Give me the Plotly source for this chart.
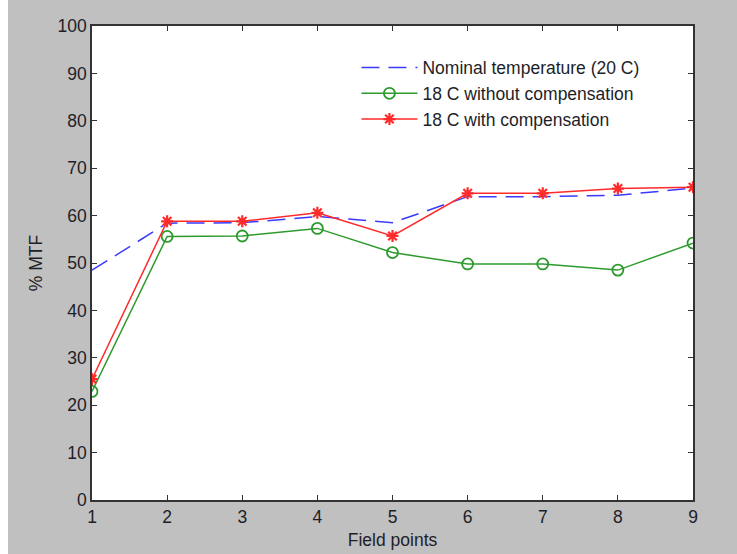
import plotly.graph_objects as go

field_points = [1, 2, 3, 4, 5, 6, 7, 8, 9]
nominal_20c = [48.5, 58.4, 58.5, 59.8, 58.5, 64.0, 64.0, 64.3, 65.8]
c18_without = [22.9, 55.6, 55.7, 57.3, 52.2, 49.8, 49.8, 48.5, 54.2]
c18_with = [25.5, 58.8, 58.8, 60.6, 55.7, 64.7, 64.7, 65.7, 66.0]
y_ticks = [0, 10, 20, 30, 40, 50, 60, 70, 80, 90, 100]

FONT = "Liberation Sans, Arial, sans-serif"
TXT = "#1e1e28"
GRAY = "#c0c0c0"
FS = 17.5

fig = go.Figure()
fig.add_trace(go.Scatter(
    x=field_points, y=nominal_20c, mode="lines", name="Nominal temperature (20 C)",
    line=dict(color="#3a3aff", width=1.5, dash="18px,9px")))
fig.add_trace(go.Scatter(
    x=field_points, y=c18_without, mode="lines+markers", name="18 C without compensation",
    line=dict(color="#2e9a2e", width=1.5),
    marker=dict(symbol="circle-open", size=11, color="#2e9a2e", line=dict(width=1.8))))
fig.add_trace(go.Scatter(
    x=field_points, y=c18_with, mode="lines+markers", name="18 C with compensation",
    line=dict(color="#ff2a2a", width=1.5),
    marker=dict(symbol="asterisk-open", size=10, color="#ff2a2a", line=dict(width=2.2, color="#ff2a2a"))))

ML, MR, MT, MB = 92, 44, 26, 54
W, H = 737, 554
pw = W - ML - MR

fig.update_layout(
    width=W, height=H,
    margin=dict(l=ML, r=MR, t=MT, b=MB, pad=0, autoexpand=False),
    paper_bgcolor=GRAY, plot_bgcolor="white",
    font=dict(family=FONT, size=FS, color=TXT),
    showlegend=True,
    legend=dict(x=0.44, y=0.95, xanchor="left", yanchor="top",
                bgcolor="rgba(0,0,0,0)", borderwidth=0,
                font=dict(family=FONT, size=FS, color=TXT),
                itemwidth=56, tracegroupgap=0),
    xaxis=dict(range=[1, 9], tickvals=field_points, ticks="inside", ticklen=5,
               tickwidth=1.3, tickcolor="#333", showline=True, linecolor="#333", linewidth=1.5,
               mirror="ticks", showgrid=False, zeroline=False, automargin=False,
               title=dict(text="Field points", standoff=8, font=dict(size=FS)),
               tickfont=dict(size=FS)),
    yaxis=dict(range=[0, 100], tickvals=y_ticks, ticks="inside", ticklen=5,
               tickwidth=1.3, tickcolor="#333", showline=True, linecolor="#333", linewidth=1.5,
               mirror="ticks", showgrid=False, zeroline=False, automargin=False,
               title=dict(text="% MTF", standoff=10, font=dict(size=FS)),
               tickfont=dict(size=FS)),
    shapes=[dict(type="rect", xref="paper", yref="paper",
                 x0=-ML / pw, x1=-(ML - 8) / pw, y0=-2, y1=2,
                 fillcolor="white", line=dict(width=0), layer="below")],
)

fig.write_html("out.html")
